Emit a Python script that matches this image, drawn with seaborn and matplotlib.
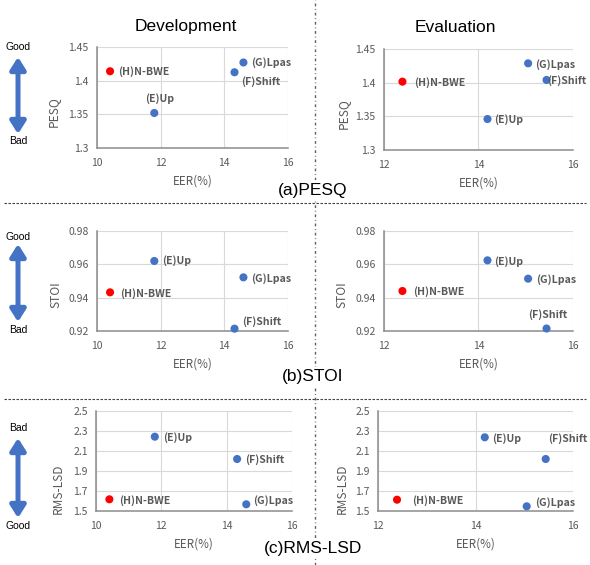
import numpy as np
import pandas as pd
import matplotlib
matplotlib.use('Agg')
import matplotlib.pyplot as plt
import seaborn as sns
from matplotlib.patches import FancyArrowPatch
from matplotlib.lines import Line2D

# ---------------- data ----------------
methods = ['(E)Up', '(F)Shift', '(G)Lpas', '(H)N-BWE']
groups = ['baseline', 'baseline', 'baseline', 'proposed']

eer_dev = [11.8, 14.32, 14.6, 10.41]
eer_eval = [14.19, 15.44, 15.05, 12.39]

pesq_dev = [1.352, 1.4125, 1.427, 1.414]
pesq_eval = [1.346, 1.404, 1.4287, 1.4015]
stoi_dev = [0.962, 0.9214, 0.9522, 0.9432]
stoi_eval = [0.9624, 0.9215, 0.9514, 0.944]
lsd_dev = [2.243, 2.02, 1.567, 1.617]
lsd_eval = [2.237, 2.02, 1.547, 1.613]

xticks_dev = [10, 12, 14, 16]
xticks_eval = [12, 14, 16]
pesq_ticks = [1.3, 1.35, 1.4, 1.45]
pesq_ticklabels = ['1.3', '1.35', '1.4', '1.45']
stoi_ticks = [0.92, 0.94, 0.96, 0.98]
stoi_ticklabels = ['0.92', '0.94', '0.96', '0.98']
lsd_ticks = [1.5, 1.7, 1.9, 2.1, 2.3, 2.5]
lsd_ticklabels = ['1.5', '1.7', '1.9', '2.1', '2.3', '2.5']

col_titles = ['Development', 'Evaluation']
row_titles = ['(a)PESQ', '(b)STOI', '(c)RMS-LSD']
metric_names = ['PESQ', 'STOI', 'RMS-LSD']
x_label = 'EER(%)'
good_bad = [('Good', 'Bad'), ('Good', 'Bad'), ('Bad', 'Good')]

# ---------------- style ----------------
sns.set_theme(style='white')
plt.rcParams['font.family'] = ['Noto Sans CJK JP', 'DejaVu Sans']

BLUE = '#4472C4'
RED = '#FF0000'
GRAY_TXT = '#595959'
W, H = 590, 565

fig = plt.figure(figsize=(W / 100, H / 100), dpi=100)
fig.patch.set_facecolor('white')


def rect(l, r, t, b):
    return [l / W, 1 - b / H, (r - l) / W, (b - t) / H]


def fx(px):
    return px / W


def fy(py):
    return 1 - py / H


# axes boxes in pixels (l, r, t, b)
boxes = [
    [(97, 288, 47, 148), (384, 573, 49, 150)],
    [(97, 288, 231, 331), (384, 573, 231, 331)],
    [(96, 292, 411, 511), (378, 573, 411, 511)],
]
ylabel_gap = [[37, 34], [35, 36], [31, 29]]

# label offsets in pixels (dx, dy_up, ha)
offsets = [
    [{'(E)Up': (5, 14, 'center'), '(F)Shift': (7, -9, 'left'), '(G)Lpas': (8, 0, 'left'), '(H)N-BWE': (8, 0, 'left')},
     {'(E)Up': (7, -1, 'left'), '(F)Shift': (1, -1, 'left'), '(G)Lpas': (7, -1, 'left'), '(H)N-BWE': (12, -1, 'left')}],
    [{'(E)Up': (8, 0, 'left'), '(F)Shift': (8, 7, 'left'), '(G)Lpas': (8, -1, 'left'), '(H)N-BWE': (10, -1, 'left')},
     {'(E)Up': (7, -1, 'left'), '(F)Shift': (-18, 14, 'left'), '(G)Lpas': (8, -1, 'left'), '(H)N-BWE': (11, -1, 'left')}],
    [{'(E)Up': (8, -1, 'left'), '(F)Shift': (8, -1, 'left'), '(G)Lpas': (7, 4, 'left'), '(H)N-BWE': (10, -1, 'left')},
     {'(E)Up': (7, -1, 'left'), '(F)Shift': (2, 20, 'left'), '(G)Lpas': (8, 4, 'left'), '(H)N-BWE': (15, -1, 'left')}],
]

values = [[pesq_dev, pesq_eval], [stoi_dev, stoi_eval], [lsd_dev, lsd_eval]]
eers = [eer_dev, eer_eval]
xticks_all = [xticks_dev, xticks_eval]
yticks_all = [(pesq_ticks, pesq_ticklabels), (stoi_ticks, stoi_ticklabels), (lsd_ticks, lsd_ticklabels)]

for r in range(3):
    for c in range(2):
        l, rr, t, b = boxes[r][c]
        ax = fig.add_axes(rect(l, rr, t, b))
        df = pd.DataFrame({'EER': eers[c], 'score': values[r][c],
                           'method': methods, 'group': groups})
        sns.scatterplot(data=df, x='EER', y='score', hue='group',
                        palette={'baseline': BLUE, 'proposed': RED},
                        s=34, linewidth=0, legend=False, ax=ax, zorder=3,
                        clip_on=False)
        for _, row in df.iterrows():
            dx, dy, ha = offsets[r][c][row['method']]
            ax.annotate(row['method'], (row['EER'], row['score']),
                        xytext=(dx, dy), textcoords='offset pixels',
                        ha=ha, va='center', fontsize=7.6, fontweight='bold',
                        color=GRAY_TXT, annotation_clip=False)
        xt = xticks_all[c]
        ax.set_xlim(xt[0], xt[-1])
        ax.set_xticks(xt)
        ax.set_xticklabels([str(v) for v in xt])
        yt, ytl = yticks_all[r]
        ax.set_ylim(yt[0], yt[-1])
        ax.set_yticks(yt)
        ax.set_yticklabels(ytl)
        ax.grid(True, color='#D9D9D9', linewidth=0.8)
        ax.set_axisbelow(True)
        for s in ['top', 'right']:
            ax.spines[s].set_visible(False)
        for s in ['left', 'bottom']:
            ax.spines[s].set_color('#8C8C8C')
            ax.spines[s].set_linewidth(1.1)
        ax.tick_params(axis='both', length=0, labelsize=7.5, labelcolor=GRAY_TXT)
        ax.tick_params(axis='x', pad=7)
        ax.tick_params(axis='y', pad=6)
        ax.set_xlabel(x_label, fontsize=8.4, color=GRAY_TXT)
        ax.xaxis.set_label_coords(0.5, -27 / (b - t))
        ax.set_ylabel(metric_names[r], fontsize=8.6, color=GRAY_TXT)
        yfrac = 0.36 if r < 2 else 0.22
        ax.yaxis.set_label_coords(-ylabel_gap[r][c] / (rr - l), yfrac)

# column titles
fig.text(fx(186), fy(27), col_titles[0], ha='center', va='center',
         fontsize=12.5, family='Liberation Sans', color='black')
fig.text(fx(455), fy(27), col_titles[1], ha='center', va='center',
         fontsize=12.5, family='Liberation Sans', color='black')

# separators
fig.add_artist(Line2D([fx(315), fx(315)], [0, 1], transform=fig.transFigure,
                      color='#606060', linewidth=1.0, linestyle=(0, (2, 2, 0.6, 2))))
for yy in [203, 399]:
    fig.add_artist(Line2D([fx(4), fx(586)], [fy(yy), fy(yy)], transform=fig.transFigure,
                          color='#404040', linewidth=0.8, linestyle=(0, (2.2, 1.4))))

# row titles
row_y = [190, 377, 548]
for txt, yy in zip(row_titles, row_y):
    fig.text(fx(313), fy(yy), txt, ha='center', va='center', fontsize=12.5,
             family='Liberation Sans', color='black',
             bbox=dict(facecolor='white', edgecolor='none', pad=1.5))

# Good / Bad arrows
arrow_spans = [(57, 134), (244, 322), (438, 518)]
gb_text_y = [(47, 141), (237, 330), (428, 526)]
for (y0, y1), (ty0, ty1), (top_t, bot_t) in zip(arrow_spans, gb_text_y, good_bad):
    arr = FancyArrowPatch((fx(18), fy(y0)), (fx(18), fy(y1)), transform=fig.transFigure,
                          arrowstyle='<|-|>,head_length=0.6,head_width=0.38',
                          mutation_scale=12, linewidth=3.6, color=BLUE,
                          shrinkA=0, shrinkB=0)
    fig.add_artist(arr)
    fig.text(fx(18), fy(ty0), top_t, ha='center', va='center', fontsize=7.5,
             family='Liberation Sans', color='black')
    fig.text(fx(18), fy(ty1), bot_t, ha='center', va='center', fontsize=7.5,
             family='Liberation Sans', color='black')

fig.savefig('out.png', dpi=100, facecolor='white')
